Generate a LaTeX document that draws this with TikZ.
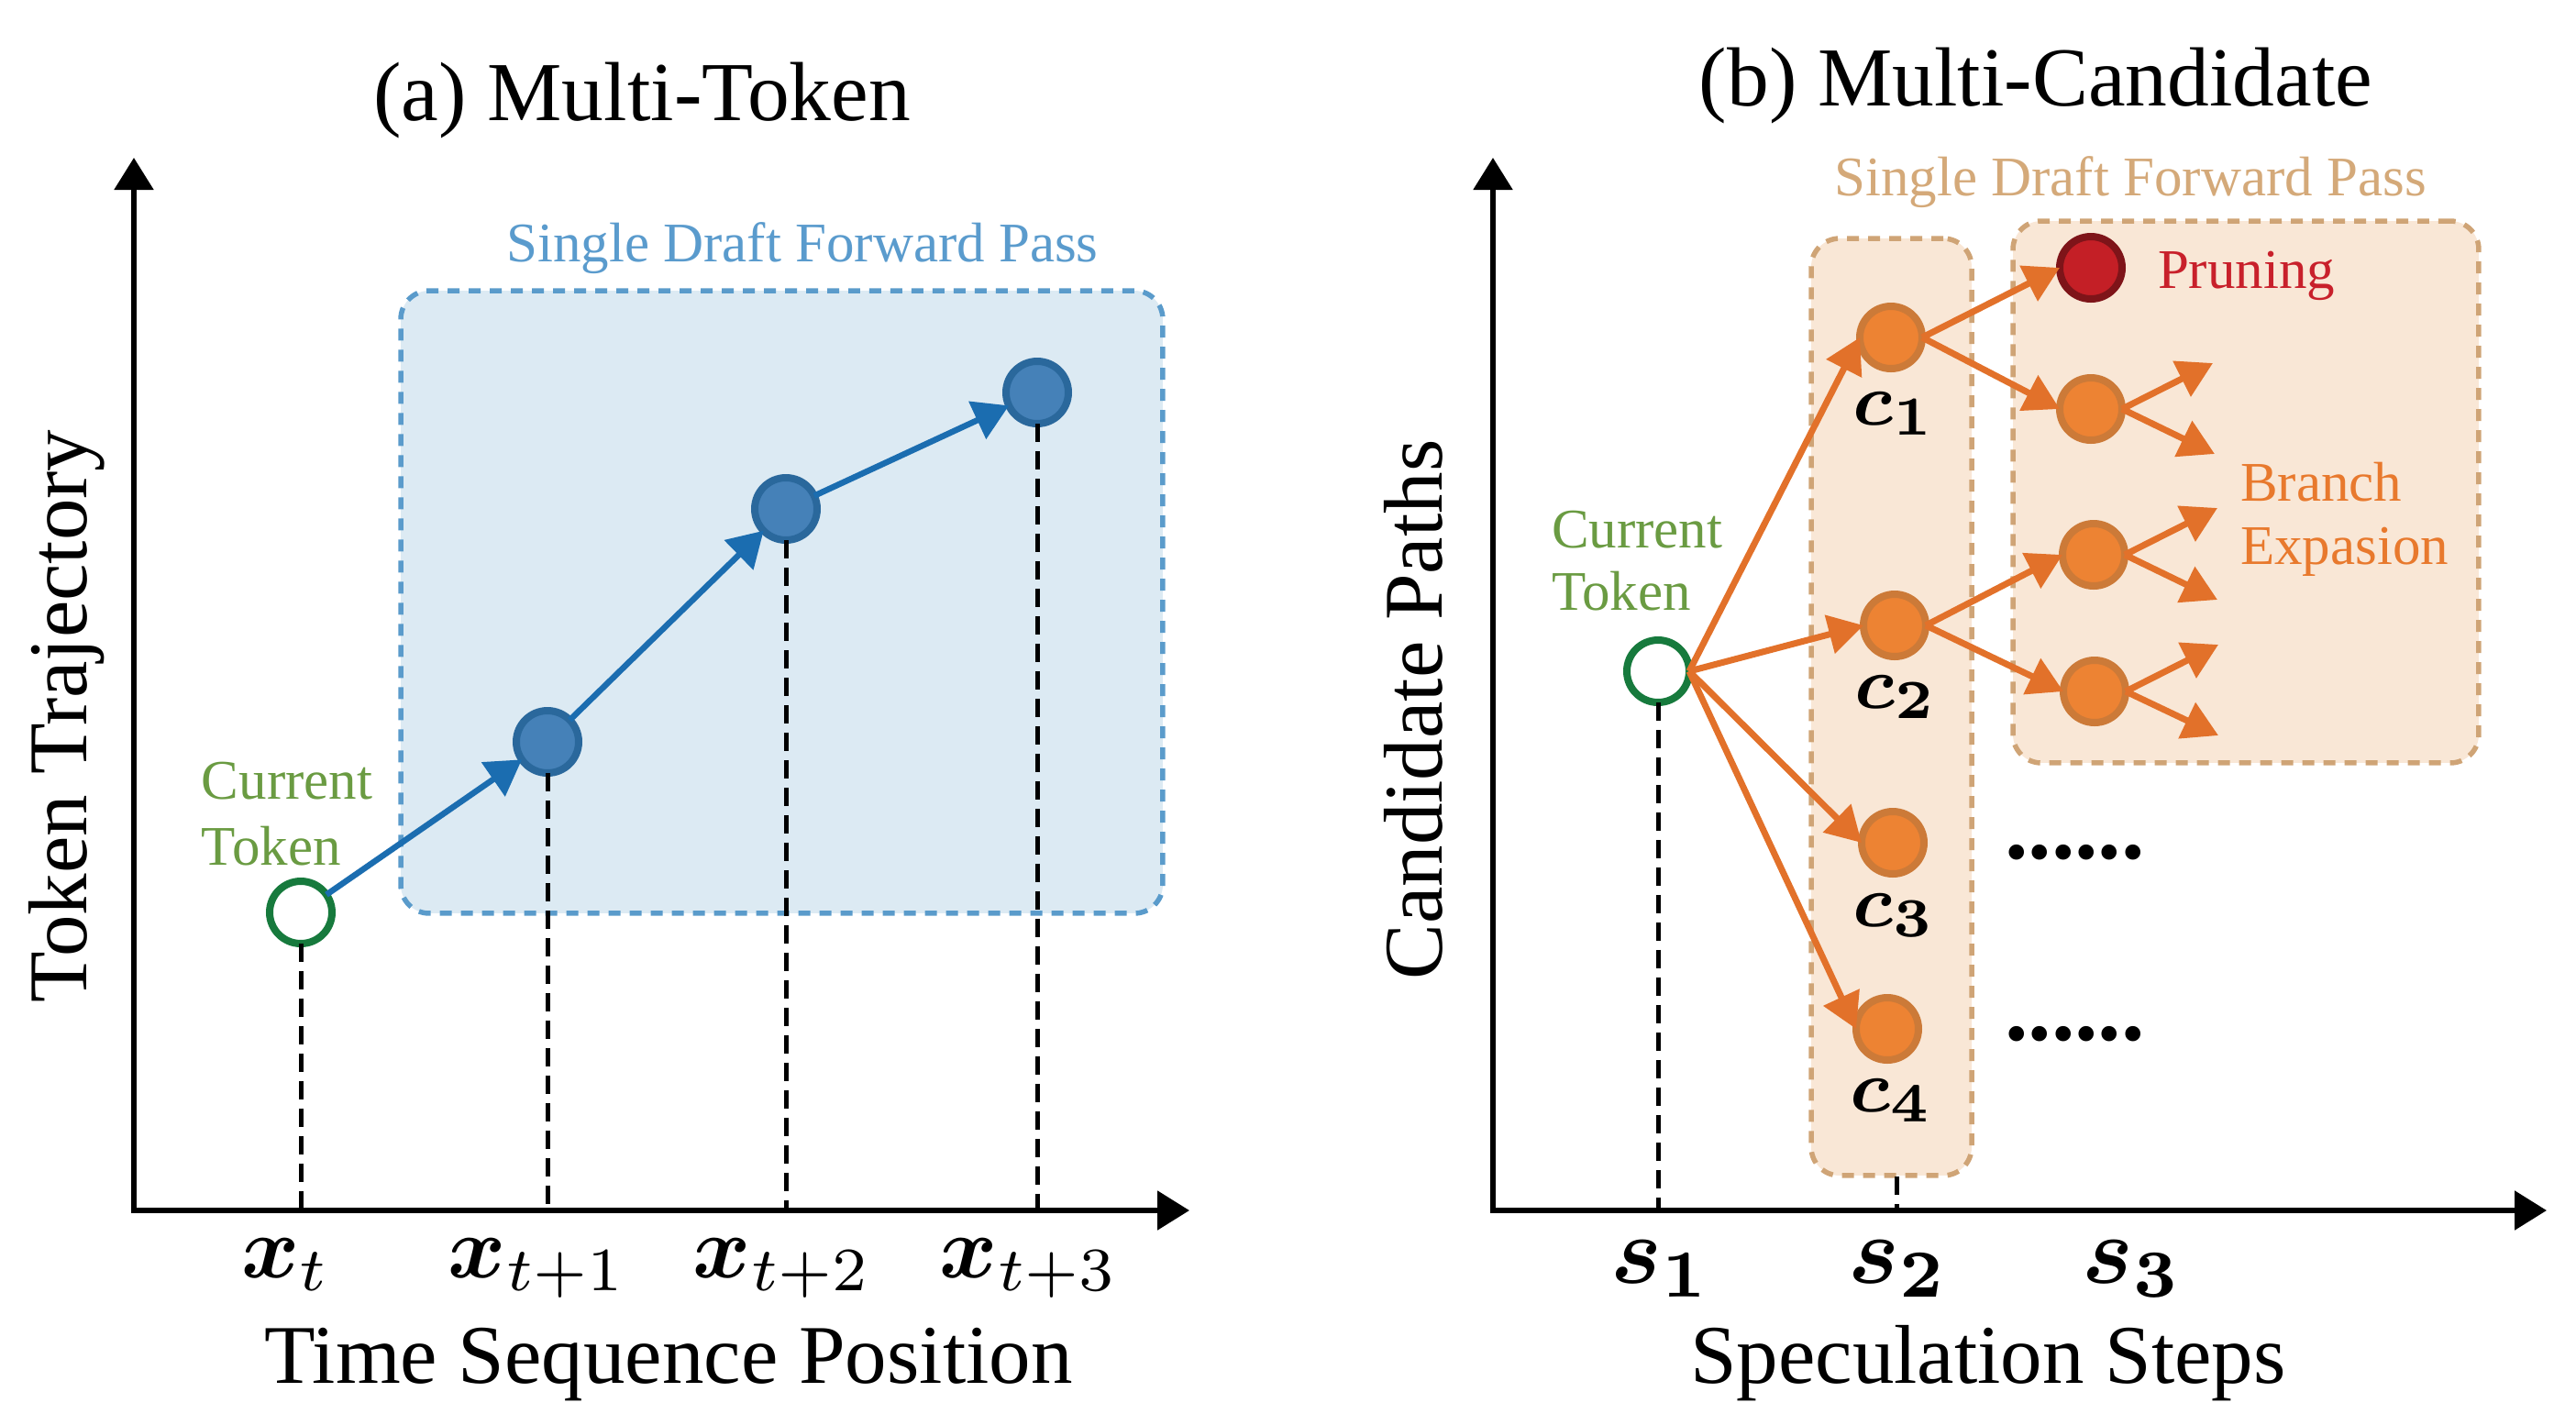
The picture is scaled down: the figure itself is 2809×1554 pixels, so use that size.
\documentclass[tikz,border=0pt]{standalone}
\usepackage{amsmath}
\usepackage{bm}
\usepackage[no-math]{fontspec}
\setmainfont{Liberation Serif}
\usetikzlibrary{arrows.meta}
\definecolor{boxBfill}{HTML}{DCEAF3}
\definecolor{boxBbd}{HTML}{5A9BCB}
\definecolor{titleB}{HTML}{5A9BCD}
\definecolor{arrB}{HTML}{1B6DB0}
\definecolor{nodeB}{HTML}{4581B8}
\definecolor{nodeBd}{HTML}{2A689C}
\definecolor{tokG}{HTML}{177A3D}
\definecolor{txtG}{HTML}{6A9B42}
\definecolor{boxOfill}{HTML}{F9E7D6}
\definecolor{boxObd}{HTML}{CFA476}
\definecolor{titleO}{HTML}{D4A979}
\definecolor{arrO}{HTML}{E2712A}
\definecolor{nodeO}{HTML}{ED8333}
\definecolor{nodeOd}{HTML}{CC7A38}
\definecolor{nodeR}{HTML}{C41F26}
\definecolor{nodeRd}{HTML}{7E1419}
\definecolor{txtR}{HTML}{C8202B}
\definecolor{txtO}{HTML}{E8792D}
\newcommand{\myxl}[1]{\scalebox{0.96}{$#1$}}
\newcommand{\mysl}[1]{\scalebox{1.05}{$#1$}}
\begin{document}
\begin{tikzpicture}[x=0.1pt,y=-0.1pt,
  every node/.style={inner sep=0pt, outer sep=0pt},
  axisline/.style={line width=0.55pt, -{Triangle[length=3.5pt,width=4.2pt]}},
  dline/.style={black, line width=0.5pt, dash pattern=on 2pt off 1pt},
  barrow/.style={draw=arrB, line width=0.65pt, -{Triangle[length=3.8pt,width=4.4pt]}},
  oarrow/.style={draw=arrO, line width=0.7pt, -{Triangle[length=3.8pt,width=4.2pt]}},
  tok/.style={circle, minimum size=6.8pt, inner sep=0pt, line width=0.8pt},
  curtok/.style={tok, draw=tokG, fill=white},
  bnode/.style={tok, draw=nodeBd, fill=nodeB},
  onode/.style={tok, draw=nodeOd, fill=nodeO},
  pnode/.style={tok, draw=nodeRd, fill=nodeR},
  bluebox/.style={draw=boxBbd, fill=boxBfill, line width=0.55pt, dash pattern=on 1.3pt off 1pt, rounded corners=3.1pt},
  tanbox/.style={draw=boxObd, fill=boxOfill, line width=0.55pt, dash pattern=on 1.3pt off 1pt, rounded corners=3.1pt},
  ttl/.style={font=\fontsize{9.15}{11}\selectfont},
  axlbl/.style={font=\fontsize{9.1}{11}\selectfont},
  small/.style={font=\fontsize{6.1}{7}\selectfont},
  xlbl/.style={font=\fontsize{10}{12}\selectfont},
  clbl/.style={font=\fontsize{8}{10}\selectfont},
  dots/.style={font=\fontsize{10.2}{12}\selectfont\bfseries}
]
\useasboundingbox (0,0) rectangle (2809,1554);

% ---------- (a) Multi-Token ----------
\node[ttl, anchor=base] (titleA) at (700,131) {(a) Multi-Token};
\node[bluebox, minimum width=83.1pt, minimum height=67.9pt] (boxA) at (852.5,656.5) {};
\node[small, text=titleB, anchor=base] (passA) at (875,285) {Single Draft Forward Pass};

\coordinate (OA) at (146,1320);
\coordinate (yA) at (146,172);
\coordinate (xA) at (1297,1320);

\node[curtok] (cur) at (328,995) {};
\node[bnode] (n1) at (597,809) {};
\node[bnode] (n2) at (857,555) {};
\node[bnode] (n3) at (1131,428) {};

\draw[dline] (cur.south) -- (cur |- OA);
\draw[dline] (n1.south) -- (n1 |- OA);
\draw[dline] (n2.south) -- (n2 |- OA);
\draw[dline] (n3.south) -- (n3 |- OA);

\draw[axisline] ([yshift=-0.25pt]OA) -- (yA);
\draw[axisline] ([xshift=-0.25pt]OA) -- (xA);

\draw[barrow] (cur) -- (n1);
\draw[barrow] (n1) -- (n2);
\draw[barrow] (n2) -- (n3);

\node[small, text=txtG, anchor=base west] (curA1) at (220,871) {Current};
\node[small, text=txtG, anchor=base west] (curA2) at (220,943) {Token};

\node[axlbl, rotate=90, anchor=base] (ylabA) at (95,781) {Token Trajectory};
\node[axlbl, anchor=base] (xlabA) at (729,1508) {Time Sequence Position};

\node[xlbl, anchor=base] (lx0) at (312,1393) {\myxl{\bm{x}_t}};
\node[xlbl, anchor=base] (lx1) at (586,1393) {\myxl{\bm{x}_{t+1}}};
\node[xlbl, anchor=base] (lx2) at (853,1393) {\myxl{\bm{x}_{t+2}}};
\node[xlbl, anchor=base] (lx3) at (1122,1393) {\myxl{\bm{x}_{t+3}}};

% ---------- (b) Multi-Candidate ----------
\node[ttl, anchor=base] (titleB) at (2220,115) {(b) Multi-Candidate};
\node[small, text=titleO, anchor=base] (passB) at (2323,213) {Single Draft Forward Pass};
\node[tanbox, minimum width=17.5pt, minimum height=102.2pt] (boxS2) at (2062.5,771) {};
\node[tanbox, minimum width=50.8pt, minimum height=59.1pt] (boxS3) at (2449,536.5) {};

\coordinate (OB) at (1628,1320);
\coordinate (yB) at (1628,172);
\coordinate (xB) at (2777,1320);

\node[curtok] (cur2) at (1808,732) {};
\node[onode] (c1) at (2062,368) {};
\node[onode] (c2) at (2066,682) {};
\node[onode] (c3) at (2064,919) {};
\node[onode] (c4) at (2058,1122) {};
\node[pnode] (pr) at (2280,292) {};
\node[onode] (d1) at (2280,446) {};
\node[onode] (d2) at (2283,605) {};
\node[onode] (d3) at (2284,754) {};

\draw[dline] (cur2.south) -- (cur2 |- OB);
\coordinate (s2top) at (2068,1283);
\draw[dline] (s2top) -- (s2top |- OB);

\draw[axisline] ([yshift=-0.25pt]OB) -- (yB);
\draw[axisline] ([xshift=-0.25pt]OB) -- (xB);

\draw[oarrow] (cur2.east) -- (c1.west);
\draw[oarrow] (cur2.east) -- (c2.west);
\draw[oarrow] (cur2.east) -- (c3.west);
\draw[oarrow] (cur2.east) -- (c4.west);
\draw[oarrow] (c1.east) -- (pr.west);
\draw[oarrow] (c1.east) -- (d1.west);
\draw[oarrow] (c2.east) -- (d2.west);
\draw[oarrow] (c2.east) -- (d3.west);

\coordinate (e1u) at (2413,396);
\coordinate (e1d) at (2415,495);
\coordinate (e2u) at (2418,554);
\coordinate (e2d) at (2418,654);
\coordinate (e3u) at (2419,703);
\coordinate (e3d) at (2419,802);
\draw[oarrow] (d1.east) -- (e1u);
\draw[oarrow] (d1.east) -- (e1d);
\draw[oarrow] (d2.east) -- (e2u);
\draw[oarrow] (d2.east) -- (e2d);
\draw[oarrow] (d3.east) -- (e3u);
\draw[oarrow] (d3.east) -- (e3d);

\node[small, text=txtR, anchor=base west] (prune) at (2353,314) {Pruning};
\node[small, text=txtO, anchor=base west] (br1) at (2443,546) {Branch};
\node[small, text=txtO, anchor=base west] (br2) at (2443,615) {Expasion};
\node[small, text=txtG, anchor=base west] (curB1) at (1692,597) {Current};
\node[small, text=txtG, anchor=base west] (curB2) at (1692,665) {Token};

\node[clbl, anchor=base] (lc1) at (2066,463) {$\bm{c_1}$};
\node[clbl, anchor=base] (lc2) at (2068,772) {$\bm{c_2}$};
\node[clbl, anchor=base] (lc3) at (2066,1010) {$\bm{c_3}$};
\node[clbl, anchor=base] (lc4) at (2063,1212) {$\bm{c_4}$};

\node[dots, anchor=base west] (dotsA) at (2186,936) {......};
\node[dots, anchor=base west] (dotsB) at (2186,1134) {......};

\node[axlbl, rotate=90, anchor=base] (ylabB) at (1572,774) {Candidate Paths};
\node[axlbl, anchor=base] (xlabB) at (2168,1508) {Speculation Steps};

\node[xlbl, anchor=base] (ls1) at (1811,1399) {\mysl{\bm{s_1}}};
\node[xlbl, anchor=base] (ls2) at (2070,1399) {\mysl{\bm{s_2}}};
\node[xlbl, anchor=base] (ls3) at (2325,1399) {\mysl{\bm{s_3}}};
\end{tikzpicture}
\end{document}
